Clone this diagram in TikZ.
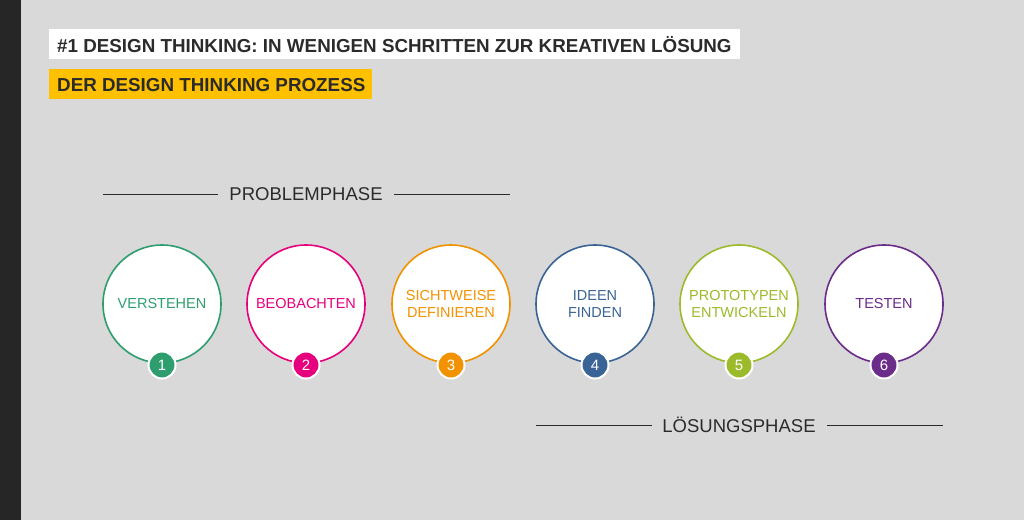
\documentclass[tikz,border=0pt]{standalone}
\usepackage{fontspec}
\setmainfont{Liberation Sans}
\definecolor{bg}{HTML}{D9D9D9}
\definecolor{bar}{HTML}{262626}
\definecolor{ink}{HTML}{2B2B2B}
\definecolor{yel}{HTML}{FFC000}
\definecolor{cA}{HTML}{2F9E6F}
\definecolor{cB}{HTML}{E6007E}
\definecolor{cC}{HTML}{F39200}
\definecolor{cD}{HTML}{3A6496}
\definecolor{cE}{HTML}{9BBB2A}
\definecolor{cF}{HTML}{6B2C8A}
\begin{document}
\begin{tikzpicture}[x=1pt,y=-1pt,
  headbox/.style={anchor=north west, minimum height=30pt, inner sep=0pt},
  headtext/.style={anchor=west, inner xsep=8pt, inner ysep=0pt, text=ink, font=\fontsize{18.8}{22}\selectfont\bfseries},
  phase/.style={text=ink, font=\fontsize{18.5}{22}\selectfont, inner sep=0pt},
  phaseline/.style={draw=ink, line width=1pt},
  bigc/.style={circle, draw=#1, fill=white, line width=1.6pt, minimum size=118pt, inner sep=0pt, align=center, text=#1, font=\fontsize{14.5}{17.5}\selectfont},
  numc/.style={circle, fill=#1, draw=white, line width=2pt, minimum size=27pt, inner sep=0pt, text=white, font=\fontsize{15}{17}\selectfont}]
\useasboundingbox (0,0) rectangle (1024,520);
\fill[bg] (0,0) rectangle (1024,520);
\fill[bar] (0,0) rectangle (21,520);
\node[headbox, fill=white, minimum width=691pt] (titlebox) at (49,29) {};
\node[headtext] (title) at ([yshift=-0.5pt]titlebox.west) {\#1 DESIGN THINKING: IN WENIGEN SCHRITTEN ZUR KREATIVEN LÖSUNG};
\node[headbox, fill=yel, minimum width=323pt] (subbox) at (49,69) {};
\node[headtext] (sub) at ([yshift=-0.5pt]subbox.west) {DER DESIGN THINKING PROZESS};
% Problemphase
\node[phase] (prob) at (306,194) {PROBLEMPHASE};
\coordinate (pl1) at (103,194);
\coordinate (pl2) at (218,194);
\coordinate (pr1) at (394,194);
\coordinate (pr2) at (510,194);
\draw[phaseline] (pl1) -- (pl2);
\draw[phaseline] (pr1) -- (pr2);
% Loesungsphase
\node[phase] (loes) at (739,425) {LÖSUNGSPHASE};
\coordinate (ll1) at (536,425);
\coordinate (ll2) at (652,425);
\coordinate (lr1) at (827,425);
\coordinate (lr2) at (943,425);
\draw[phaseline] (ll1) -- (ll2);
\draw[phaseline] (lr1) -- (lr2);
% circles
\node[bigc=cA] (c1) at (162,304) {VERSTEHEN};
\node[bigc=cB] (c2) at (306,304) {BEOBACHTEN};
\node[bigc=cC] (c3) at (451,304) {SICHTWEISE\\DEFINIEREN};
\node[bigc=cD] (c4) at (595,304) {IDEEN\\FINDEN};
\node[bigc=cE] (c5) at (739,304) {PROTOTYPEN\\ENTWICKELN};
\node[bigc=cF] (c6) at (884,304) {TESTEN};
\node[numc=cA] (n1) at (162,365) {1};
\node[numc=cB] (n2) at (306,365) {2};
\node[numc=cC] (n3) at (451,365) {3};
\node[numc=cD] (n4) at (595,365) {4};
\node[numc=cE] (n5) at (739,365) {5};
\node[numc=cF] (n6) at (884,365) {6};
\end{tikzpicture}
\end{document}
